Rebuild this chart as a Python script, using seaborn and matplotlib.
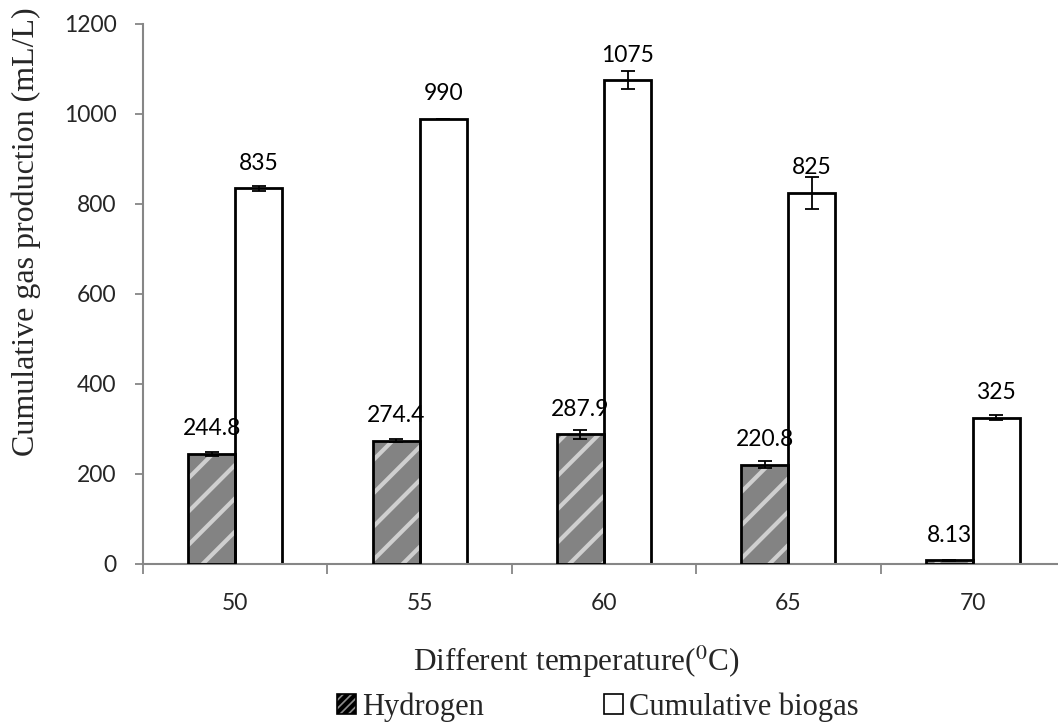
import numpy as np
import pandas as pd
import matplotlib
matplotlib.use("Agg")
import matplotlib.pyplot as plt
import seaborn as sns
from matplotlib.patches import Patch

temps = ["50", "55", "60", "65", "70"]
hydrogen = [244.8, 274.4, 287.9, 220.8, 8.13]
hydrogen_err = [4, 3, 10, 8, 1]
biogas = [835, 990, 1075, 825, 325]
biogas_err = [6, 0, 20, 35, 6]
hydrogen_labels = ["244.8", "274.4", "287.9", "220.8", "8.13"]
biogas_labels = ["835", "990", "1075", "825", "325"]
series = ["Hydrogen", "Cumulative biogas"]

sns.set_theme(style="white")
plt.rcParams["font.family"] = ["Lato", "DejaVu Sans"]
plt.rcParams["mathtext.fontset"] = "stix"
plt.rcParams["hatch.linewidth"] = 3.0

df = pd.DataFrame({
    "temp": temps * 2,
    "value": hydrogen + biogas,
    "series": [series[0]] * len(temps) + [series[1]] * len(temps),
})

fig = plt.figure(figsize=(10.58, 7.26), dpi=100)
ax = fig.add_axes([143 / 1058, 1 - 564 / 726, 922 / 1058, 540 / 726])

sns.barplot(data=df, x="temp", y="value", hue="series", order=temps,
            hue_order=series, palette=["#838383", "white"], width=0.51,
            edgecolor="black", linewidth=2, errorbar=None, legend=False, ax=ax)

bars_h = ax.patches[:len(temps)]
bars_b = ax.patches[len(temps):2 * len(temps)]

# texture for hydrogen bars, then black outline
for p in bars_h:
    p.set_hatch("/")
    p.set_edgecolor("#cfcfcf")
    p.set_linewidth(0)
    ax.bar(p.get_x() + p.get_width() / 2, p.get_height(), width=p.get_width(),
           fill=False, edgecolor="black", linewidth=2, zorder=3)

for bars, vals, errs, labs in [(bars_h, hydrogen, hydrogen_err, hydrogen_labels),
                               (bars_b, biogas, biogas_err, biogas_labels)]:
    xs = [p.get_x() + p.get_width() / 2 for p in bars]
    ax.errorbar(xs, vals, yerr=errs, fmt="none", ecolor="black",
                elinewidth=1.3, capsize=5, capthick=1.3, zorder=4)
    for x, v, lab in zip(xs, vals, labs):
        ax.annotate(lab, (x, v), xytext=(0, 18), textcoords="offset points",
                    ha="center", va="center", fontsize=16.5, color="black")

ax.set_ylim(0, 1200)
ax.set_xlim(-0.5, 4.5)
ax.set_yticks([0, 200, 400, 600, 800, 1000, 1200])
ax.set_xticks(np.arange(-0.5, 5.0, 1.0))
ax.set_xticklabels([])
ax.set_xticks(np.arange(5), minor=True)
ax.set_xticklabels(temps, minor=True)
ax.tick_params(axis="x", which="major", direction="out", length=7, width=1.3,
               color="#868686", bottom=True)
ax.tick_params(axis="x", which="minor", length=0, pad=21, labelsize=16.5)
ax.tick_params(axis="y", direction="out", length=6, width=1.3, color="#868686",
               left=True, pad=13, labelsize=16.5)
for s in ["top", "right"]:
    ax.spines[s].set_visible(False)
for s in ["left", "bottom"]:
    ax.spines[s].set_color("#868686")
    ax.spines[s].set_linewidth(1.5)

ax.set_ylabel("Cumulative gas production (mL/L)", fontsize=23,
              family="Liberation Serif")
ax.yaxis.set_label_coords(-0.111, 0.615)
ax.set_xlabel("Different temperature($^{0}$C)", fontsize=22.5,
              family="Liberation Serif")
ax.xaxis.set_label_coords(0.47, -0.148)

handles = [Patch(facecolor="#8a8a8a", edgecolor="black", hatch="////", linewidth=1.2),
           Patch(facecolor="white", edgecolor="black", linewidth=1.2)]
fig.legend(handles, series, loc="center", bbox_to_anchor=(0.565, 0.026), ncol=2,
           frameon=False, prop={"family": "Liberation Serif", "size": 22},
           handlelength=0.6, handleheight=0.6, handletextpad=0.2,
           columnspacing=3.95, borderpad=0)

fig.savefig("out.png", dpi=100)
